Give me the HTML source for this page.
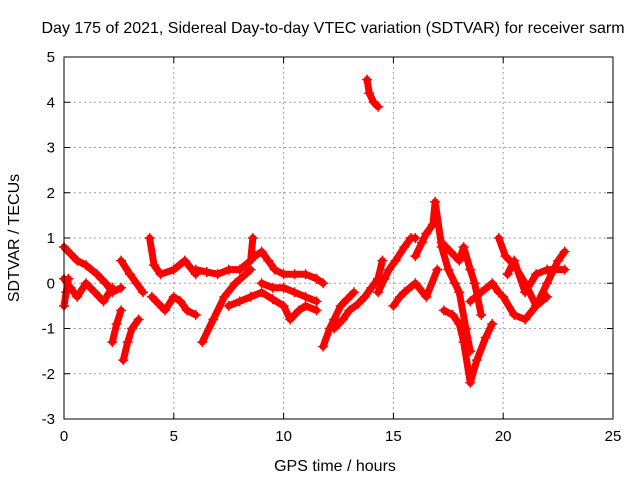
<!DOCTYPE html>
<html><head><meta charset="utf-8"><style>
body{margin:0;background:#fff}
svg{display:block;font-family:"Liberation Sans",sans-serif}
</style></head><body>
<svg id="chart" width="640" height="480">
<rect width="640" height="480" fill="#fff"/>
<text x="333" y="33" font-size="16" text-anchor="middle">Day 175 of 2021, Sidereal Day-to-day VTEC variation (SDTVAR) for receiver sarm</text>
<text x="335" y="471" font-size="16" text-anchor="middle">GPS time / hours</text>
<text transform="translate(19,238) rotate(-90)" font-size="16" text-anchor="middle">SDTVAR / TECUs</text>
<g id="grid"></g>
<g id="ticks"></g>
<g id="series"></g>
<rect x="64" y="57" width="549" height="362" fill="none" stroke="#000" stroke-width="1"/>
</svg>
<script>
const xTicks=[0,5,10,15,20,25];
const yTicks=[-3,-2,-1,0,1,2,3,4,5];
const tracks=[
[[0,0.8],[0.3,0.65],[0.6,0.5],[1,0.4],[1.5,0.2],[1.9,0],[2.2,-0.2],[2.6,-0.1]],
[[0,0.1],[0.3,-0.1],[0.6,-0.3],[1,0],[1.4,-0.2],[1.8,-0.4],[2.2,-0.1]],
[[0,-0.5],[0.1,-0.2],[0.2,0.1]],
[[2.6,0.5],[3,0.2],[3.3,0],[3.6,-0.2]],
[[2.2,-1.3],[2.4,-0.9],[2.6,-0.6]],
[[2.7,-1.7],[2.9,-1.3],[3.1,-1.0],[3.4,-0.8]],
[[3.9,1.0],[4.1,0.4],[4.4,0.2],[5,0.3],[5.5,0.5],[6,0.2]],
[[4,-0.3],[4.3,-0.45],[4.6,-0.6],[5,-0.3],[5.3,-0.4],[5.6,-0.6],[6,-0.7]],
[[6.3,-1.3],[6.8,-0.8],[7.3,-0.3],[7.8,0],[8.5,0.3]],
[[6,0.3],[6.5,0.25],[7,0.2],[7.5,0.3],[8,0.3],[8.5,0.5],[8.6,1.0]],
[[7.5,-0.5],[8,-0.4],[8.5,-0.3],[9,-0.2],[9.5,-0.35],[10,-0.5],[10.3,-0.8],[10.7,-0.6],[11,-0.5],[11.5,-0.6]],
[[8.7,0.6],[9,0.7],[9.3,0.5],[9.6,0.3],[10,0.2],[10.5,0.2],[11,0.2],[11.5,0.1],[11.8,0]],
[[9,0],[9.5,-0.1],[10,-0.1],[10.5,-0.2],[11,-0.3],[11.5,-0.4]],
[[11.8,-1.4],[12.1,-1.0],[12.3,-0.8],[12.6,-0.5],[12.9,-0.35],[13.2,-0.2]],
[[12.3,-1.0],[12.7,-0.8],[13,-0.6],[13.4,-0.45],[13.7,-0.3],[14,-0.1],[14.3,0.1],[14.5,0.5]],
[[13.8,4.5],[13.9,4.2],[14.1,4.0],[14.3,3.9]],
[[14.3,-0.2],[14.6,0.1],[14.8,0.3],[15.1,0.5],[15.5,0.8],[15.8,1.0],[16,1.0]],
[[15,-0.5],[15.3,-0.3],[15.5,-0.2],[16,0],[16.5,-0.3],[17,0.3]],
[[16,0.6],[16.3,0.9],[16.5,1.1],[16.8,1.3],[16.9,1.8],[17.2,0.8],[17.5,0.3],[17.8,0],[18,-0.2],[18.3,-1.0],[18.5,-1.5]],
[[17.2,0.9],[17.6,0.7],[18,0.5],[18.2,0.8],[18.5,0.3],[18.7,0],[19,-0.7]],
[[17.3,-0.6],[17.7,-0.7],[18,-0.9],[18.2,-1.3],[18.5,-2.2],[18.8,-1.7],[19.2,-1.2],[19.5,-0.9]],
[[18.5,-0.4],[19,-0.2],[19.5,0],[19.8,-0.2]],
[[19.8,1.0],[20.1,0.6],[20.5,0.4],[21,0],[21.5,-0.5],[22,-0.3]],
[[20,-0.3],[20.5,-0.7],[21,-0.8],[21.5,-0.5],[22,0],[22.3,0.3],[22.5,0.5],[22.8,0.7]],
[[20.2,0.2],[20.5,0.5],[21,-0.2],[21.5,0.2],[22,0.3],[22.8,0.3]]
];
const NS="http://www.w3.org/2000/svg";
const X0=64,X1=613,Y0=419,Y1=57;
function xs(v){return X0+(v-0)/(25-0)*(X1-X0);}
function ys(v){return Y0-(v+3)/(8)*(Y0-Y1);}
function mk(t,a,p){const e=document.createElementNS(NS,t);for(const k in a)e.setAttribute(k,a[k]);p.appendChild(e);return e;}
const grid=document.getElementById('grid'),ticks=document.getElementById('ticks'),ser=document.getElementById('series');
xTicks.forEach(v=>{
  const x=xs(v);
  if(v>0&&v<25){const l=mk('line',{x1:x,x2:x,y1:Y0,y2:Y1,stroke:'#a0a0a0','stroke-dasharray':'2,3'},grid);
  
  }
  mk('line',{x1:x,x2:x,y1:Y0,y2:Y0-6,stroke:'#000'},ticks);
  mk('line',{x1:x,x2:x,y1:Y1,y2:Y1+6,stroke:'#000'},ticks);
  const t=mk('text',{x:x,y:Y0+22,'font-size':15,'text-anchor':'middle'},ticks);t.textContent=v;
  
  
});
yTicks.forEach(v=>{
  const y=ys(v);
  if(v>-3&&v<5){const l=mk('line',{x1:X0,x2:X1,y1:y,y2:y,stroke:'#a0a0a0','stroke-dasharray':'2,3'},grid);
  
  }
  mk('line',{x1:X0,x2:X0+6,y1:y,y2:y,stroke:'#000'},ticks);
  mk('line',{x1:X1,x2:X1-6,y1:y,y2:y,stroke:'#000'},ticks);
  const t=mk('text',{x:X0-9,y:y+5,'font-size':15,'text-anchor':'end'},ticks);t.textContent=v;
  
  
});
tracks.forEach(tr=>{
  const pl=mk('polyline',{points:tr.map(p=>xs(p[0])+','+ys(p[1])).join(' '),fill:'none',stroke:'#f00','stroke-width':7,'stroke-linejoin':'round','stroke-linecap':'round'},ser);
  
  
  tr.forEach(p=>{
    const x=xs(p[0]),y=ys(p[1]);
    const m=mk('path',{d:`M${x-5},${y}H${x+5}M${x},${y-5}V${y+5}`,stroke:'#f00','stroke-width':1.5},ser);
    
    
  });
});
</script>
</body></html>
